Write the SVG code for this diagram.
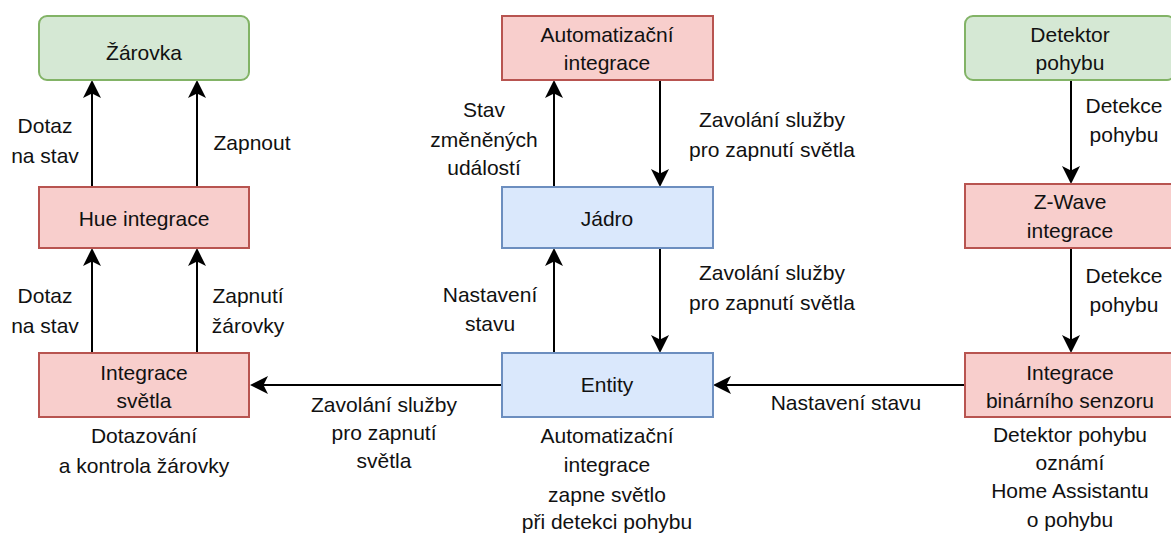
<svg xmlns="http://www.w3.org/2000/svg" width="1171" height="536" viewBox="0 0 1171 536">
<style>
text{font-family:"Liberation Sans",Arial,sans-serif;font-size:21px;fill:#111;text-anchor:middle}
.g{fill:#d5e8d4;stroke:#82b366;stroke-width:2}
.r{fill:#f8cecc;stroke:#b85450;stroke-width:2}
.b{fill:#dae8fc;stroke:#6c8ebf;stroke-width:2}
.c{stroke:#000;stroke-width:2;fill:none;marker-end:url(#ah)}
</style>
<defs>
<marker id="ah" viewBox="0 0 18 18" refX="8" refY="9" markerWidth="18" markerHeight="18" markerUnits="userSpaceOnUse" orient="auto">
<path d="M0,0 L18,9 L0,18 L4.5,9 Z" fill="#000"/>
</marker>
</defs>
<rect width="1171" height="536" fill="#fff"/>
<g id="connectors">
<line class="c" x1="92" y1="187" x2="92" y2="90"/>
<line class="c" x1="197" y1="187" x2="197" y2="90"/>
<line class="c" x1="92" y1="353" x2="92" y2="258"/>
<line class="c" x1="197" y1="353" x2="197" y2="258"/>
<line class="c" x1="502" y1="385" x2="260" y2="385"/>
<line class="c" x1="554" y1="353" x2="554" y2="258"/>
<line class="c" x1="660" y1="248" x2="660" y2="343"/>
<line class="c" x1="554" y1="187" x2="554" y2="90"/>
<line class="c" x1="660" y1="80" x2="660" y2="177"/>
<line class="c" x1="1071" y1="80" x2="1071" y2="174"/>
<line class="c" x1="1071" y1="248" x2="1071" y2="343"/>
<line class="c" x1="965" y1="385" x2="723" y2="385"/>
<text x="45" y="133">Dotaz</text><text x="45" y="163">na stav</text>
<text x="252" y="150">Zapnout</text>
<text x="45" y="303">Dotaz</text><text x="45" y="333">na stav</text>
<text x="248" y="303">Zapnutí</text><text x="248" y="333">žárovky</text>
<text x="384" y="412">Zavolání služby</text><text x="384" y="440">pro zapnutí</text><text x="384" y="468">světla</text>
<text x="484" y="117">Stav</text><text x="484" y="147">změněných</text><text x="484" y="175">událostí</text>
<text x="772" y="127">Zavolání služby</text><text x="772" y="157">pro zapnutí světla</text>
<text x="490" y="302">Nastavení</text><text x="490" y="331">stavu</text>
<text x="772" y="280">Zavolání služby</text><text x="772" y="310">pro zapnutí světla</text>
<text x="1124" y="113">Detekce</text><text x="1124" y="142">pohybu</text>
<text x="1124" y="283">Detekce</text><text x="1124" y="312">pohybu</text>
<text x="846" y="410">Nastavení stavu</text>
</g>
<g id="zarovka"><rect class="g" x="39" y="16" width="210" height="64" rx="8"/><text x="144" y="60">Žárovka</text></g>
<g id="hue"><rect class="r" x="39" y="187" width="210" height="61"/><text x="144" y="226">Hue integrace</text></g>
<g id="integrace-svetla"><rect class="r" x="39" y="353" width="210" height="64"/><text x="144" y="380">Integrace</text><text x="144" y="408">světla</text>
<text x="144" y="443">Dotazování</text><text x="144" y="473">a kontrola žárovky</text></g>
<g id="automatizacni"><rect class="r" x="502" y="16" width="211" height="64"/><text x="607" y="42">Automatizační</text><text x="607" y="70">integrace</text></g>
<g id="jadro"><rect class="b" x="502" y="187" width="211" height="61"/><text x="607" y="226">Jádro</text></g>
<g id="entity"><rect class="b" x="502" y="353" width="211" height="64"/><text x="607" y="392">Entity</text>
<text x="607" y="443">Automatizační</text><text x="607" y="472">integrace</text><text x="607" y="502">zapne světlo</text><text x="607" y="529">při detekci pohybu</text></g>
<g id="detektor"><rect class="g" x="965" y="16" width="210" height="64" rx="8"/><text x="1070" y="42">Detektor</text><text x="1070" y="70">pohybu</text></g>
<g id="zwave"><rect class="r" x="965" y="184" width="210" height="64"/><text x="1070" y="209">Z-Wave</text><text x="1070" y="238">integrace</text></g>
<g id="binarni"><rect class="r" x="965" y="353" width="210" height="64"/><text x="1070" y="380">Integrace</text><text x="1070" y="408">binárního senzoru</text>
<text x="1070" y="442">Detektor pohybu</text><text x="1070" y="470">oznámí</text><text x="1070" y="498">Home Assistantu</text><text x="1070" y="527">o pohybu</text></g>
</svg>
